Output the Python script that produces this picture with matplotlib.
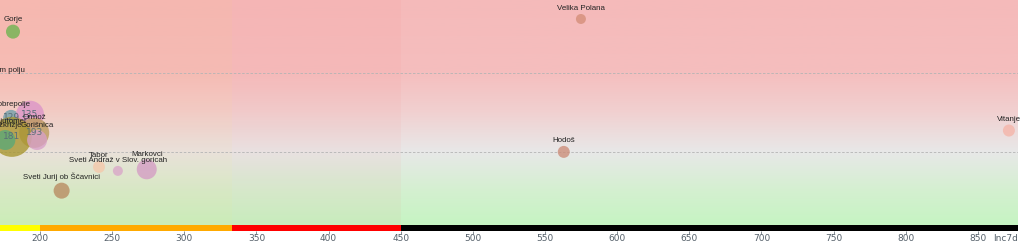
import numpy as np
import matplotlib
matplotlib.use('Agg')
import matplotlib.pyplot as plt
from matplotlib.colors import LinearSegmentedColormap

# podatki (odčitano s slike)
obcine = ['Gorje', 'Velika Polana', 'Hodoš', 'Vitanje', 'Tabor',
          'Sveti Andraž v Slov. goricah', 'Markovci', 'Sveti Jurij ob Ščavnici',
          'Miklavž na Dravskem polju', 'Dobrepolje', '', 'Ormož', 'Ljutomer',
          'Razkrižje', 'Gorišnica']
inc7d = [181.3, 574.9, 563.0, 871.5, 240.9, 254.0, 274.0, 215.0,
         157.0, 180.0, 193.1, 196.0, 180.5, 176.0, 198.0]
razmerje = [2.52, 2.68, 1.00, 1.27, 0.81, 0.76, 0.78, 0.51,
            1.89, 1.43, 1.47, 1.24, 1.19, 1.15, 1.15]
velikost = [7, 5, 6, 6, 6, 5, 10, 8, 6, 8, 14, 15, 20, 10, 10]
barve = ['#6cb44f', '#d48e78', '#cc8c78', '#f5b4a8', '#f5c8aa',
         '#d9a6c8', '#d49cc4', '#b88a60', '#d48e78', '#6e9eaa',
         '#dc94c8', '#bb9a5c', '#a8952e', '#5aa878', '#d8a0c8']
vrednosti = ['', '', '', '', '', '', '', '', '', '129', '135', '193', '181', '', '']

# meje območij incidence
meje = [172.3, 200, 333, 450, 877.8]
barve_meja = ['#ffff00', '#ffaa00', '#ff0000', '#000000']
odtenki = [('#ffb060', 0.10), ('#ffa050', 0.09), ('#ff6060', 0.05), ('#000000', 0.0)]

fig = plt.figure(figsize=(10.24, 2.43), dpi=100)
ax = fig.add_axes([0, 12 / 243, 1018 / 1024, 231 / 243])
ax.set_xlim(meje[0], meje[-1])
ax.set_ylim(0, 2.92)

# ozadje - barvni prehod od zelene do rdeče
cmap = LinearSegmentedColormap.from_list('ozadje', [
    (0.0, (195/255, 245/255, 192/255)),
    (0.5/2.92, (212/255, 240/255, 208/255)),
    (1.0/2.92, (232/255, 232/255, 232/255)),
    (1.5/2.92, (241/255, 208/255, 208/255)),
    (2.0/2.92, (245/255, 190/255, 190/255)),
    (1.0, (245/255, 186/255, 186/255))])
grad = np.linspace(0, 1, 256).reshape(-1, 1)
ax.imshow(grad, cmap=cmap, origin='lower', aspect='auto',
          extent=[meje[0], meje[-1], 0, 2.92], zorder=0)
for i in range(4):
    ax.axvspan(meje[i], meje[i + 1], color=odtenki[i][0], alpha=odtenki[i][1],
               lw=0, zorder=0.5)

# barvni trak spodaj
for i in range(4):
    ax.fill_between([meje[i], meje[i + 1]], 0, 0.075, color=barve_meja[i],
                    lw=0, zorder=1)

ax.axhline(1, color='#b4b4b4', ls=(0, (3, 2)), lw=0.6, zorder=1)
ax.axhline(2, color='#b4b4b4', ls=(0, (3, 2)), lw=0.6, zorder=1)

s = [(2 * r * 0.72) ** 2 for r in velikost]
ax.scatter(inc7d, razmerje, s=s, c=barve, alpha=0.78, lw=0, zorder=2)

# imena nad mehurčki
for ime, x, y, r, v in zip(obcine, inc7d, razmerje, velikost, vrednosti):
    if ime:
        odmik = (min(r, 10) + 1.5) * 0.72
        ax.annotate(ime, (x, y), xytext=(0, odmik), textcoords='offset points',
                    ha='center', va='bottom', fontsize=5.7, color='#222222',
                    family='Liberation Sans', annotation_clip=False, zorder=3)
    if v:
        ax.text(x, y, v, ha='center', va='center', fontsize=6.5,
                color='#5a6e78', zorder=3)

ax.set_xticks(range(200, 851, 50))
ax.tick_params(axis='x', length=2, width=0.5, pad=0.5, labelsize=6.5,
               colors='#55606a', direction='out')
ax.set_yticks([])
for sp in ax.spines.values():
    sp.set_visible(False)
ax.text(1.0, -0.012, 'Inc7d', transform=ax.transAxes, ha='right', va='top',
        fontsize=6.5, color='#55606a')

fig.savefig('out.png', dpi=100)
